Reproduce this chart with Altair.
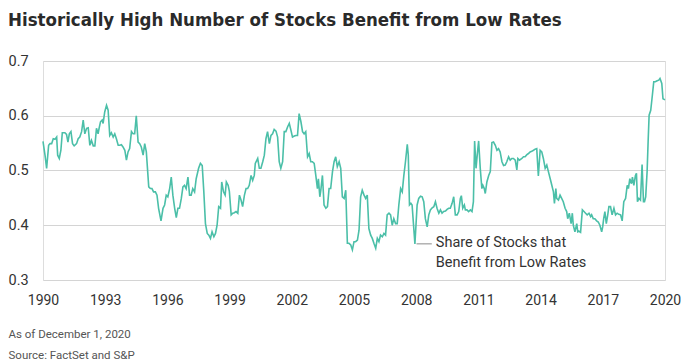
import altair as alt
import pandas as pd

# Decimal year (position along the 1990-2020 series) and share of stocks
t_offsets = [
    0.00, 0.10, 0.18, 0.28, 0.35, 0.43, 0.51, 0.60, 0.68, 0.73, 0.81, 0.89, 0.96, 1.09, 1.17, 1.24,
    1.31, 1.39, 1.47, 1.55, 1.67, 1.75, 1.83, 1.92, 2.00, 2.08, 2.17, 2.25, 2.33, 2.41, 2.50, 2.58,
    2.66, 2.74, 2.79, 2.86, 2.94, 2.99, 3.07, 3.16, 3.24, 3.32, 3.40, 3.49, 3.57, 3.65, 3.74, 3.82,
    3.90, 3.98, 4.07, 4.15, 4.23, 4.31, 4.40, 4.48, 4.56, 4.64, 4.73, 4.81, 4.89, 4.98, 5.06, 5.14,
    5.26, 5.34, 5.42, 5.50, 5.59, 5.67, 5.75, 5.87, 5.97, 6.05, 6.13, 6.21, 6.30, 6.38, 6.46, 6.55,
    6.63, 6.71, 6.79, 6.88, 6.96, 7.04, 7.12, 7.21, 7.29, 7.37, 7.45, 7.54, 7.62, 7.74, 7.83, 7.92,
    8.00, 8.08, 8.17, 8.25, 8.33, 8.41, 8.50, 8.58, 8.66, 8.74, 8.83, 8.89, 8.98, 9.06, 9.12, 9.21,
    9.27, 9.36, 9.44, 9.52, 9.60, 9.69, 9.77, 9.85, 9.93, 10.02, 10.10, 10.18, 10.26, 10.35, 10.43, 10.51,
    10.56, 10.68, 10.76, 10.84, 10.93, 11.01, 11.09, 11.17, 11.26, 11.34, 11.42, 11.50, 11.59, 11.67, 11.75, 11.83,
    11.92, 12.00, 12.08, 12.17, 12.25, 12.33, 12.41, 12.50, 12.58, 12.66, 12.74, 12.83, 12.91, 12.99, 13.07, 13.16,
    13.24, 13.32, 13.40, 13.49, 13.57, 13.65, 13.70, 13.77, 13.82, 13.90, 13.98, 14.07, 14.15, 14.23, 14.31, 14.40,
    14.48, 14.56, 14.64, 14.73, 14.81, 14.89, 14.98, 15.06, 15.14, 15.22, 15.31, 15.39, 15.47, 15.55, 15.64, 15.72,
    15.80, 15.88, 15.97, 16.05, 16.13, 16.21, 16.30, 16.38, 16.46, 16.55, 16.63, 16.71, 16.79, 16.88, 16.96, 17.04,
    17.12, 17.21, 17.29, 17.37, 17.45, 17.54, 17.62, 17.70, 17.79, 17.87, 17.95, 18.03, 18.12, 18.17, 18.23, 18.30,
    18.36, 18.45, 18.50, 18.61, 18.69, 18.78, 18.86, 18.94, 19.02, 19.11, 19.19, 19.27, 19.36, 19.44, 19.52, 19.60,
    19.69, 19.77, 19.85, 19.93, 20.02, 20.10, 20.18, 20.26, 20.35, 20.43, 20.51, 20.60, 20.68, 20.76, 20.81, 20.88,
    20.96, 21.01, 21.09, 21.17, 21.26, 21.34, 21.41, 21.47, 21.54, 21.60, 21.67, 21.75, 21.83, 21.88, 21.95, 22.00,
    22.08, 22.17, 22.25, 22.33, 22.41, 22.50, 22.58, 22.66, 22.74, 22.83, 22.91, 22.99, 23.07, 23.16, 23.24, 23.32,
    23.40, 23.49, 23.57, 23.62, 23.70, 23.82, 23.90, 23.98, 24.07, 24.15, 24.23, 24.31, 24.40, 24.48, 24.56, 24.64,
    24.73, 24.81, 24.89, 24.98, 25.06, 25.14, 25.23, 25.31, 25.39, 25.44, 25.51, 25.55, 25.64, 25.72, 25.80, 25.88,
    25.97, 26.05, 26.10, 26.18, 26.27, 26.33, 26.38, 26.46, 26.55, 26.60, 26.66, 26.74, 26.83, 26.91, 26.99, 27.07,
    27.16, 27.24, 27.29, 27.37, 27.45, 27.54, 27.62, 27.70, 27.79, 27.84, 27.89, 27.95, 28.02, 28.08, 28.15, 28.23,
    28.31, 28.40, 28.48, 28.56, 28.64, 28.73, 28.81, 28.89, 28.98, 29.06, 29.12, 29.19, 29.27, 29.32, 29.39, 29.47,
    29.52, 29.57, 29.64, 29.72, 29.80, 29.87, 29.92, 29.98, 30.05, 30.10, 30.15, 30.23, 30.31, 30.38, 30.46, 30.55,
    30.63, 30.69, 30.78, 30.84, 30.94,
]
shares = [
    0.553, 0.528, 0.504, 0.546, 0.549, 0.549, 0.558, 0.557, 0.561, 0.528, 0.522, 0.537, 0.569, 0.569, 0.566, 0.552,
    0.567, 0.571, 0.549, 0.545, 0.549, 0.558, 0.561, 0.571, 0.592, 0.567, 0.577, 0.578, 0.546, 0.555, 0.545, 0.545,
    0.577, 0.567, 0.577, 0.589, 0.592, 0.586, 0.607, 0.619, 0.610, 0.564, 0.569, 0.561, 0.567, 0.558, 0.546, 0.546,
    0.547, 0.543, 0.537, 0.519, 0.534, 0.540, 0.571, 0.567, 0.567, 0.600, 0.552, 0.549, 0.543, 0.528, 0.549, 0.534,
    0.470, 0.467, 0.467, 0.461, 0.461, 0.455, 0.431, 0.408, 0.431, 0.437, 0.455, 0.452, 0.467, 0.488, 0.455, 0.431,
    0.414, 0.431, 0.431, 0.449, 0.470, 0.473, 0.467, 0.488, 0.455, 0.455, 0.467, 0.461, 0.485, 0.504, 0.513, 0.509,
    0.461, 0.403, 0.385, 0.382, 0.376, 0.388, 0.379, 0.385, 0.400, 0.434, 0.431, 0.479, 0.461, 0.455, 0.479, 0.473,
    0.462, 0.419, 0.422, 0.423, 0.425, 0.422, 0.455, 0.446, 0.434, 0.455, 0.467, 0.467, 0.473, 0.491, 0.482, 0.491,
    0.513, 0.522, 0.504, 0.504, 0.516, 0.528, 0.558, 0.571, 0.549, 0.564, 0.567, 0.575, 0.572, 0.561, 0.516, 0.504,
    0.516, 0.571, 0.571, 0.580, 0.586, 0.574, 0.561, 0.563, 0.564, 0.564, 0.604, 0.589, 0.571, 0.567, 0.571, 0.525,
    0.531, 0.516, 0.516, 0.513, 0.491, 0.467, 0.485, 0.452, 0.464, 0.491, 0.437, 0.431, 0.434, 0.467, 0.467, 0.498,
    0.516, 0.525, 0.507, 0.516, 0.504, 0.452, 0.449, 0.464, 0.367, 0.367, 0.364, 0.355, 0.370, 0.370, 0.373, 0.391,
    0.452, 0.464, 0.455, 0.449, 0.455, 0.394, 0.382, 0.376, 0.367, 0.358, 0.376, 0.370, 0.382, 0.379, 0.385, 0.382,
    0.419, 0.422, 0.419, 0.400, 0.412, 0.403, 0.403, 0.437, 0.467, 0.461, 0.491, 0.516, 0.548, 0.528, 0.437, 0.440,
    0.437, 0.391, 0.366, 0.437, 0.449, 0.453, 0.452, 0.443, 0.412, 0.397, 0.419, 0.428, 0.432, 0.434, 0.443, 0.431,
    0.422, 0.428, 0.422, 0.425, 0.426, 0.429, 0.431, 0.431, 0.440, 0.452, 0.419, 0.419, 0.425, 0.449, 0.454, 0.431,
    0.437, 0.428, 0.428, 0.425, 0.428, 0.425, 0.443, 0.554, 0.504, 0.528, 0.554, 0.504, 0.467, 0.473, 0.467, 0.458,
    0.479, 0.491, 0.498, 0.551, 0.552, 0.546, 0.537, 0.540, 0.534, 0.516, 0.509, 0.510, 0.516, 0.525, 0.519, 0.522,
    0.522, 0.519, 0.501, 0.522, 0.519, 0.522, 0.525, 0.525, 0.529, 0.531, 0.534, 0.535, 0.537, 0.539, 0.540, 0.490,
    0.537, 0.534, 0.522, 0.504, 0.510, 0.498, 0.485, 0.473, 0.461, 0.440, 0.467, 0.449, 0.446, 0.455, 0.449, 0.443,
    0.431, 0.425, 0.412, 0.422, 0.403, 0.422, 0.400, 0.388, 0.403, 0.388, 0.389, 0.387, 0.428, 0.425, 0.422, 0.419,
    0.422, 0.416, 0.419, 0.412, 0.412, 0.408, 0.406, 0.400, 0.388, 0.397, 0.412, 0.425, 0.403, 0.416, 0.434, 0.434,
    0.419, 0.431, 0.419, 0.422, 0.420, 0.419, 0.408, 0.443, 0.449, 0.473, 0.467, 0.485, 0.476, 0.488, 0.473, 0.491,
    0.495, 0.443, 0.449, 0.446, 0.511, 0.443, 0.443, 0.452, 0.498, 0.552, 0.601, 0.610, 0.637, 0.662, 0.662, 0.664,
    0.665, 0.668, 0.659, 0.631, 0.629,
]

year_ticks = [1990, 1993, 1996, 1999, 2002, 2005, 2008, 2011, 2014, 2017, 2020]
y_ticks = [0.3, 0.4, 0.5, 0.6, 0.7]
title_text = "Historically High Number of Stocks Benefit from Low Rates"
footer_lines = ["As of December 1, 2020", "Source: FactSet and S&P"]
annotation_lines = ["Share of Stocks that", "Benefit from Low Rates"]
annotation_point = 1990 + 18.50
annotation_value = 0.366

LINE_COLOR = "#4bbfa8"
TEXT = "#333333"
FONT = "Roboto"
SERIES_DOMAIN = [1990, 1990 + 30.94]

df = pd.DataFrame({"year": [1990 + t for t in t_offsets], "share": shares})
ticks_df = pd.DataFrame({"tick": year_ticks})

W, H = 622, 219

y_axis = alt.Axis(
    values=y_ticks, format=".1f", title=None, grid=True, gridColor="#d4d4d4", gridWidth=1,
    ticks=False, tickSize=0, domain=False, labelAlign="left", labelPadding=35,
    labelFont=FONT, labelFontSize=14.5, labelColor=TEXT, labelBaseline="middle",
)
y_scale = alt.Scale(domain=[0.3, 0.7], nice=False, zero=False, padding=0)
series_x = alt.Scale(domain=SERIES_DOMAIN, nice=False, zero=False, padding=0)

line = alt.Chart(df).mark_line(color=LINE_COLOR, strokeWidth=1.6).encode(
    x=alt.X("year:Q", scale=series_x, axis=None),
    y=alt.Y("share:Q", scale=y_scale, axis=y_axis),
)

tick_layer = alt.Chart(ticks_df).mark_point(opacity=0).encode(
    x=alt.X(
        "tick:Q",
        scale=alt.Scale(domain=[1990, 2020], nice=False, zero=False, padding=0),
        axis=alt.Axis(
            values=year_ticks, format="d", orient="bottom", grid=False, ticks=False, tickSize=0,
            domain=False, labelPadding=13, labelFlush=False, labelOverlap=False,
            labelFont=FONT, labelFontSize=14, labelColor=TEXT,
            title=footer_lines, titleFont=FONT, titleFontSize=11.5, titleFontWeight="normal",
            titleColor="#555555", titleAlign="left", titleAnchor="start", titleBaseline="top",
            titleX=-35, titleY=48, titleLineHeight=21,
        ),
    ),
)

ann_df = pd.DataFrame({
    "x0": [annotation_point + 0.08], "x1": [annotation_point + 0.84],
    "xt": [annotation_point + 1.04], "share": [annotation_value],
})

leader = alt.Chart(ann_df).mark_rule(color="#8a8a8a", strokeWidth=1).encode(
    x=alt.X("x0:Q", scale=series_x, axis=None),
    x2="x1:Q",
    y=alt.Y("share:Q", scale=y_scale, axis=y_axis),
)

label = alt.Chart(ann_df).mark_text(
    align="left", baseline="top", dy=-8, font=FONT, fontSize=14.5, color=TEXT, lineHeight=20,
    text=annotation_lines,
).encode(
    x=alt.X("xt:Q", scale=series_x, axis=None),
    y=alt.Y("share:Q", scale=y_scale, axis=y_axis),
)

chart = (
    alt.layer(line, tick_layer, leader, label)
    .resolve_scale(x="independent")
    .resolve_axis(x="independent")
    .properties(
        width=W, height=H,
        padding={"left": 0, "top": 2, "right": 0, "bottom": 0},
        title=alt.TitleParams(
            title_text, anchor="start", frame="bounds", font="DejaVu Sans Condensed",
            fontSize=18.5, fontWeight="bold", color="#2a2a2a", offset=24,
        ),
    )
    .configure_view(stroke=None)
    .configure(background="white")
)

chart.save("out.html", embed_options={"renderer": "svg", "actions": False})
